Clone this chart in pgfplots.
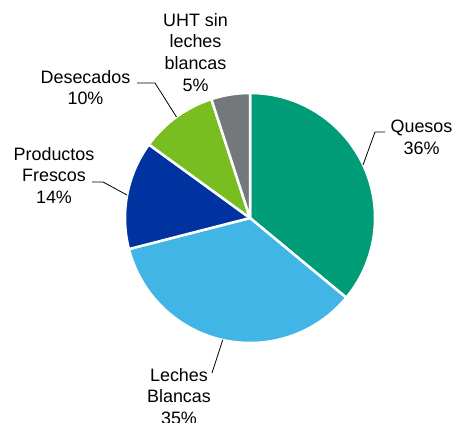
\documentclass[border=0pt]{standalone}
\usepackage{pgfplots}
\pgfplotsset{compat=1.18}
\usepackage{fontspec}
\setmainfont{Liberation Sans}
\definecolor{cQ}{HTML}{009B77}
\definecolor{cL}{HTML}{41B6E6}
\definecolor{cP}{HTML}{0032A0}
\definecolor{cD}{HTML}{78BE21}
\definecolor{cU}{HTML}{75787B}
\begin{document}
\begin{tikzpicture}
\begin{axis}[at={(0,0)}, anchor=south west, width=456bp, height=423bp,
  scale only axis, xmin=0, xmax=456, ymin=0, ymax=423, hide axis, clip=false]
\gdef\startang{90}
\foreach \v/\c in {36/cQ,35/cL,14/cP,10/cD,5/cU}{
  \pgfmathsetmacro{\endang}{\startang-3.6*\v}
  \edef\temp{\noexpand\fill[\c, draw=white, line width=2.5bp, line join=round] (axis cs:250,205) -- ++(\startang:125bp) arc[start angle=\startang, end angle=\endang, radius=125bp] -- cycle;}
  \temp
  \xdef\startang{\endang}
}
\tikzset{lab/.style={anchor=north, align=center, inner sep=0pt, font=\fontsize{18}{21.7}\selectfont}}
\node[lab] at (axis cs:195.5,410) {UHT sin\\leches\\blancas\\5\%};
\node[lab] at (axis cs:85.5,353) {Desecados\\10\%};
\node[lab] at (axis cs:54,276) {Productos\\Frescos\\14\%};
\node[lab] at (axis cs:421.5,303) {Quesos\\36\%};
\node[lab] at (axis cs:179,55) {Leches\\Blancas\\35\%};
\draw[line width=0.8bp] (axis cs:137,340) -- (axis cs:155,340) -- (axis cs:176.5,306);
\draw[line width=0.8bp] (axis cs:92,241) -- (axis cs:103,241) -- (axis cs:127,228);
\draw[line width=0.8bp] (axis cs:385,291) -- (axis cs:375,291) -- (axis cs:363,258);
\draw[line width=0.8bp] (axis cs:212,50) -- (axis cs:222.7,83);
\end{axis}
\pgfresetboundingbox
\useasboundingbox (0,0) rectangle (456bp,423bp);
\end{tikzpicture}
\end{document}
